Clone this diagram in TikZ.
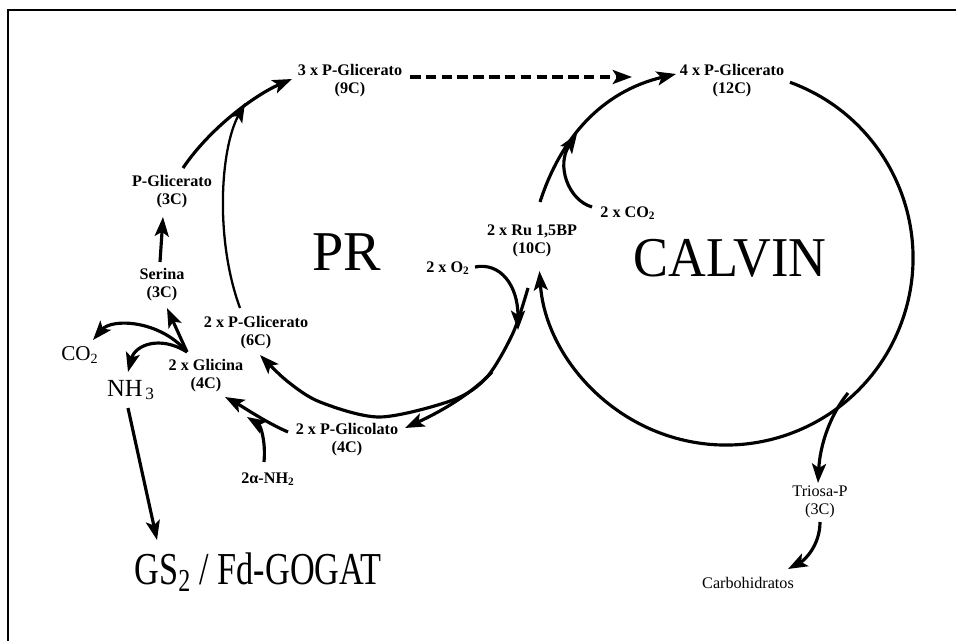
\documentclass[tikz,border=0pt]{standalone}
\usepackage{fontspec}
\setmainfont{Liberation Serif}
\usetikzlibrary{arrows.meta,calc}
\begin{document}
\begin{tikzpicture}[x=0.02cm,y=-0.02cm,
  lbl/.style={font=\fontsize{9.2}{10.2}\selectfont\bfseries, align=center, inner sep=0pt},
  lblr/.style={font=\fontsize{9.2}{10.2}\selectfont, align=center, inner sep=0pt},
  conn/.style={line width=1.8pt, -{Stealth[length=11pt,width=8pt,inset=2.5pt]}},
  big/.style={inner sep=0pt}]
\useasboundingbox (0,0) rectangle (956,641);
% frame
\draw[line width=1.4pt] (956,10) -- (8,10) -- (8,641);

% labels
\node[lbl] (n9C) at (350,81) {3 x P-Glicerato\\(9C)};
\node[lbl] (n12C) at (732,81) {4 x P-Glicerato\\(12C)};
\node[lbl] (nPG3) at (172,192) {P-Glicerato\\(3C)};
\node[lbl] (nSer) at (162,285) {Serina\\(3C)};
\node[lbl] (nPG6) at (256,333) {2 x P-Glicerato\\(6C)};
\node[lbl] (nGly) at (206,376) {2 x Glicina\\(4C)};
\node[lbl] (nGlyc) at (347,440) {2 x P-Glicolato\\(4C)};
\node[lbl] (nNH2) at (268,479) {2α-NH\textsubscript{2}};
\node[lbl] (nO2) at (448,268) {2 x O\textsubscript{2}};
\node[lbl] (nRu) at (532,241) {2 x Ru 1,5BP\\(10C)};
\node[lbl] (nCO2b) at (628,213) {2 x CO\textsubscript{2}};
\node[lblr] (nTri) at (820,502) {Triosa-P\\(3C)};
\node[lblr] (nCarb) at (748,583) {Carbohidratos};
\node[big, font=\fontsize{12}{12}\selectfont] (nCO2) at (80,355) {CO\textsubscript{2}};
\node[big, font=\fontsize{14}{14}\selectfont] (nNH3) at (131,390) {NH\textsubscript{\,3}};
\node[big, font=\fontsize{32}{32}\selectfont] (nPR) at (347,252) {PR};
\node[big, font=\fontsize{32}{32}\selectfont] (nCalvin) at (730,258) {\scalebox{0.93}[1]{CALVIN}};
\node[big, font=\fontsize{26}{26}\selectfont] (nGS) at (258,572) {\scalebox{0.75}[1]{GS\textsubscript{2} / Fd-GOGAT}};

% named end points
\coordinate (d1) at (410,77);  \coordinate (d2) at (632,77);
\coordinate (b1) at (183,168); \coordinate (b2) at (292,79);
\coordinate (c1) at (240,308); \coordinate (c2) at (245,103);
\coordinate (s1) at (160,262); \coordinate (s2) at (163,217);
\coordinate (g1) at (187,352); \coordinate (g2) at (167,308);
\coordinate (co1) at (93,340);
\coordinate (nh1) at (128,372);
\coordinate (nh2) at (128,408); \coordinate (gs1) at (157,540);
\coordinate (pg1) at (288,432); \coordinate (pg2) at (225,397);
\coordinate (am1) at (264,462); \coordinate (am2) at (247,417);
\coordinate (k1) at (528,288); \coordinate (k2) at (260,355);
\coordinate (l1) at (492,372); \coordinate (l2) at (405,428);
\coordinate (o1) at (475,267); \coordinate (o2) at (518,330);
\coordinate (cc) at (726,258);
\coordinate (cv1) at ($(cc)+(-70:187)$);
\coordinate (r1) at (540,202); \coordinate (r2) at (676,74);
\coordinate (q1) at (592,207); \coordinate (q2) at (577,134);
\coordinate (t1) at (848,393); \coordinate (t2) at (818,483);
\coordinate (t3) at (820,522); \coordinate (t4) at (788,569);

% connectors
\draw[conn, dash pattern=on 6pt off 3pt] (d1) -- (d2);
\draw[conn] (b1) .. controls (210,128) and (255,95) .. (b2);
\draw[conn, line width=1.3pt] (c1) .. controls (215,240) and (220,150) .. (c2);
\draw[conn] (s1) -- (s2);
\draw[conn] (g1) -- (g2);
\draw[conn] (g1) .. controls (160,320) and (112,318) .. (co1);
\draw[conn] (g1) .. controls (160,335) and (135,345) .. (nh1);
\draw[conn] (nh2) -- (gs1);
\draw[conn] (pg1) .. controls (265,422) and (240,405) .. (pg2);
\draw[conn] (am1) .. controls (266,440) and (260,425) .. (am2);
\draw[conn] plot[smooth] coordinates {(k1) (513,333) (487,377) (453,400) (380,417) (320,402) (287,381) (k2)};
\draw[conn] (l1) .. controls (470,395) and (440,412) .. (l2);
\draw[conn] (o1) .. controls (500,262) and (518,285) .. (o2);
\draw[conn] (cv1) arc[start angle=-70, end angle=176, radius=187];
\draw[conn] (r1) .. controls (560,140) and (600,92) .. (r2);
\draw[conn] (q1) .. controls (568,200) and (556,165) .. (q2);
\draw[conn] (t1) .. controls (830,415) and (820,445) .. (t2);
\draw[conn] (t3) .. controls (820,545) and (805,560) .. (t4);
\end{tikzpicture}
\end{document}
